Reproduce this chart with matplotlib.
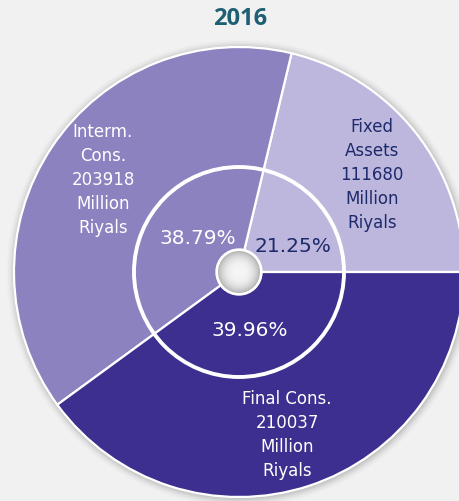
import numpy as np
import matplotlib
matplotlib.use("Agg")
import matplotlib.pyplot as plt
from matplotlib.patches import Circle

categories = ["Fixed\nAssets", "Interm.\nCons.", "Final Cons."]
values = [111680, 203918, 210037]
unit = "Million\nRiyals"
title = "2016"
colors = ["#bdb7dd", "#8b82bf", "#3c2f8f"]
label_colors = ["#1d2a6b", "white", "white"]

W, H = 460, 501
fig = plt.figure(figsize=(W / 100, H / 100), dpi=100)
fig.patch.set_facecolor("#f1f1f1")
ax = fig.add_axes([0, 0, 1, 1])

cx, cy, R = 239, H - 272, 225

# soft shadow
for i, a in enumerate(np.linspace(0.05, 0.01, 6)):
    ax.add_patch(Circle((cx + 1, cy - 1), R + 1 + i * 1.5, color="black", alpha=a, lw=0, zorder=0))

labels = [f"{c}\n{v}\n{unit}" for c, v in zip(categories, values)]
wedges, texts, autotexts = ax.pie(
    values, colors=colors, startangle=0, counterclock=True, center=(cx, cy), radius=R,
    labels=labels, labeldistance=0.73, autopct="%.2f%%", pctdistance=0.26,
    wedgeprops=dict(edgecolor="white", linewidth=1.6),
    textprops=dict(fontsize=12, family="DejaVu Sans", ha="center", va="center"),
    frame=True,
)
ax.set_xlim(0, W)
ax.set_ylim(0, H)
ax.set_axis_off()

label_xy = [(372, 175), (103, 180), (287, 435)]
pct_xy = [(293, 246), (198, 238), (250, 330)]
for t, c, (x, y) in zip(texts, label_colors, label_xy):
    t.set_color(c)
    t.set_linespacing(1.42)
    t.set_ha("center")
    t.set_position((x, H - y))
for t, c, (x, y) in zip(autotexts, label_colors, pct_xy):
    t.set_color(c)
    t.set_fontsize(14.5)
    t.set_position((x, H - y))

# inner ring
ax.add_patch(Circle((cx, cy), 105, fill=False, edgecolor="white", lw=2.8, zorder=5))

# center knob with gradient
hole_r = 21
ax.add_patch(Circle((cx, cy), hole_r + 2, color="white", zorder=6))
n = 80
yy, xx = np.mgrid[-1:1:n * 1j, -1:1:n * 1j]
rr = np.sqrt(xx ** 2 + yy ** 2)
grad = np.clip(0.96 - 0.25 * rr ** 3, 0, 1)
im = ax.imshow(grad, cmap="gray", vmin=0, vmax=1,
               extent=(cx - hole_r, cx + hole_r, cy - hole_r, cy + hole_r), zorder=7)
im.set_clip_path(Circle((cx, cy), hole_r, transform=ax.transData))
ax.set_xlim(0, W)
ax.set_ylim(0, H)

ax.text(240, H - 19, title, ha="center", va="center", fontsize=17, fontweight="bold",
        color="#1f5f73", family="Open Sans")

fig.savefig("out.png", dpi=100, facecolor=fig.get_facecolor())
